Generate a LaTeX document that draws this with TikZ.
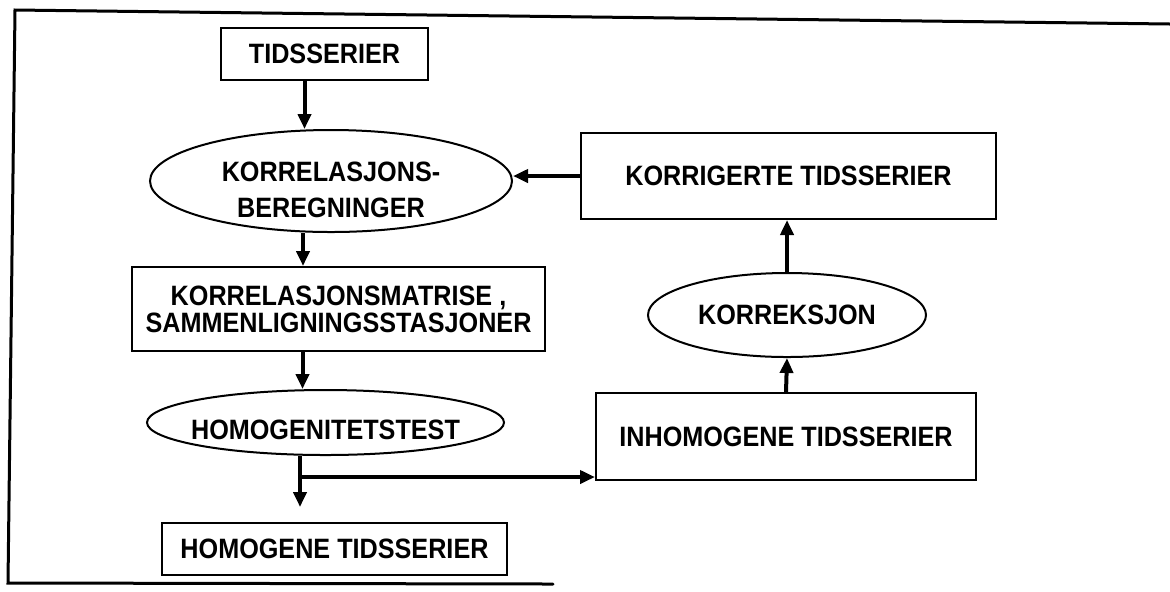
\documentclass[tikz,border=0pt]{standalone}
\usepackage{fontspec}
\newfontfamily\flowfont[FakeStretch=0.9]{Liberation Sans}
\usetikzlibrary{arrows.meta,positioning,shapes.geometric}

\begin{document}
\begin{tikzpicture}[x=0.5pt, y=-0.5pt,
    box/.style={draw, line width=1pt, align=center, inner sep=0pt, font=\flowfont\bfseries\fontsize{14}{13.5}\selectfont},
    oval/.style={draw, ellipse, line width=1pt, align=center, inner sep=0pt, font=\flowfont\bfseries\fontsize{14}{18}\selectfont},
    flow/.style={-{Triangle[length=7.5pt, width=6.5pt]}, line width=2pt},
    frame/.style={line width=1.5pt, line cap=round}
]
    \useasboundingbox (0,0) rectangle (1170,591);

    % outer border (open at the right as in the scan)
    \draw[frame] (1170,24) -- (15,10) -- (8,583) -- (553,584);

    \node[box, minimum width=103.5pt, minimum height=26pt] (tids) at (324.5,54) {TIDSSERIER};
    \node[oval, inner ysep=-1pt, minimum width=181pt, minimum height=51pt] (korr) at (331,181) {\rule{0pt}{19pt}KORRELASJONS-\\BEREGNINGER};
    \node[box, minimum width=206.5pt, minimum height=42pt] (matr) at (338.5,309) {KORRELASJONSMATRISE ,\\SAMMENLIGNINGSSTASJONER};
    \node[oval, inner xsep=-6pt, text height=17pt, minimum width=178.5pt, minimum height=32.5pt] (homtest) at (325.5,422.5) {HOMOGENITETSTEST};
    \node[box, minimum width=172.5pt, minimum height=26pt] (homog) at (334.5,549) {HOMOGENE TIDSSERIER};
    \node[box, minimum width=190pt, minimum height=43.5pt] (inhom) at (786,436.5) {INHOMOGENE TIDSSERIER};
    \node[oval, minimum width=139pt, minimum height=42pt] (korrek) at (787,315) {KORREKSJON};
    \node[box, minimum width=207.5pt, minimum height=43pt] (korrig) at (788.5,176) {KORRIGERTE TIDSSERIER};
    \coordinate (split) at (300,477);

    \draw[flow] ([xshift=-10pt]tids.south) -- ([xshift=-10pt]tids.south |- korr.north);
    \draw[flow] ([xshift=-14pt]korr.south) -- ([xshift=-14pt]korr.south |- matr.north);
    \draw[flow] ([xshift=-18pt]matr.south) -- ([xshift=-18pt]matr.south |- homtest.north);
    \draw[flow, shorten >=7.5pt] (homtest.south -| split) -- (homog.north -| split);
    \draw[flow] (split) -- (split -| inhom.west);
    \draw[flow] (inhom.north) -- (korrek.south);
    \draw[flow] (korrek.north) -- (korrek.north |- korrig.south);
    \draw[flow] (korrig.west) -- (korrig.west -| korr.east);
\end{tikzpicture}
\end{document}
